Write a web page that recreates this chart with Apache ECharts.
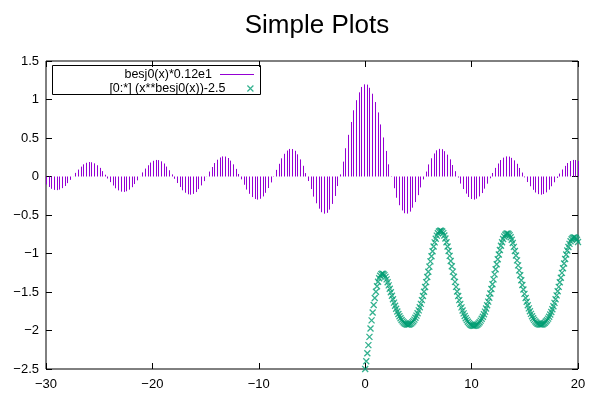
<!DOCTYPE html>
<html><head><meta charset="utf-8">
<script src="https://cdn.jsdelivr.net/npm/echarts@6/dist/echarts.min.js"></script>
<style>html,body{margin:0;padding:0;background:#fff}#c{width:600px;height:400px}</style>
</head><body><div id="c"></div>
<script>
const chartTitle = 'Simple Plots';
const seriesNames = ['besj0(x)*0.12e1', '[0:*] (x**besj0(x))-2.5'];
const xAxisRange = [-30, 20, 10];
const yAxisRange = [-2.5, 1.5, 0.5];

// impulses: besj0(x)*1.2 sampled on [-30:20]
const impulseX = [
-30,-29.75,-29.50,-29.25,-29.00,-28.74,-28.49,-28.24,-27.99,-27.74,
-27.49,-27.24,-26.98,-26.73,-26.48,-26.23,-25.98,-25.73,-25.48,-25.23,
-24.97,-24.72,-24.47,-24.22,-23.97,-23.72,-23.47,-23.22,-22.96,-22.71,
-22.46,-22.21,-21.96,-21.71,-21.46,-21.21,-20.95,-20.70,-20.45,-20.20,
-19.95,-19.70,-19.45,-19.20,-18.94,-18.69,-18.44,-18.19,-17.94,-17.69,
-17.44,-17.19,-16.93,-16.68,-16.43,-16.18,-15.93,-15.68,-15.43,-15.18,
-14.92,-14.67,-14.42,-14.17,-13.92,-13.67,-13.42,-13.17,-12.91,-12.66,
-12.41,-12.16,-11.91,-11.66,-11.41,-11.16,-10.90,-10.65,-10.40,-10.15,
-9.90,-9.65,-9.40,-9.15,-8.89,-8.64,-8.39,-8.14,-7.89,-7.64,
-7.39,-7.14,-6.88,-6.63,-6.38,-6.13,-5.88,-5.63,-5.38,-5.13,
-4.87,-4.62,-4.37,-4.12,-3.87,-3.62,-3.37,-3.12,-2.86,-2.61,
-2.36,-2.11,-1.86,-1.61,-1.36,-1.11,-0.85,-0.60,-0.35,-0.10,
0.15,0.40,0.65,0.90,1.16,1.41,1.66,1.91,2.16,2.41,
2.66,2.91,3.17,3.42,3.67,3.92,4.17,4.42,4.67,4.92,
5.18,5.43,5.68,5.93,6.18,6.43,6.68,6.93,7.19,7.44,
7.69,7.94,8.19,8.44,8.69,8.94,9.20,9.45,9.70,9.95,
10.20,10.45,10.70,10.95,11.21,11.46,11.71,11.96,12.21,12.46,
12.71,12.96,13.22,13.47,13.72,13.97,14.22,14.47,14.72,14.97,
15.23,15.48,15.73,15.98,16.23,16.48,16.73,16.98,17.24,17.49,
17.74,17.99,18.24,18.49,18.74,19.00,19.25,19.50,19.75,20.00];
const impulseY = [
-0.104,-0.136,-0.160,-0.174,-0.177,-0.170,-0.151,-0.123,-0.086,-0.044,
0.001,0.047,0.090,0.128,0.158,0.178,0.188,0.185,0.171,0.146,
0.112,0.070,0.023,-0.026,-0.073,-0.117,-0.153,-0.180,-0.197,-0.200,
-0.192,-0.171,-0.139,-0.098,-0.050,0.001,0.053,0.103,0.146,0.181,
0.204,0.215,0.213,0.197,0.169,0.129,0.081,0.027,-0.030,-0.085,
-0.136,-0.179,-0.211,-0.231,-0.236,-0.226,-0.202,-0.164,-0.116,-0.060,
0.002,0.064,0.123,0.175,0.218,0.247,0.261,0.259,0.240,0.206,
0.158,0.099,0.033,-0.037,-0.107,-0.170,-0.225,-0.267,-0.292,-0.300,
-0.289,-0.259,-0.212,-0.150,-0.077,0.004,0.086,0.165,0.236,0.295,
0.337,0.358,0.357,0.334,0.288,0.222,0.139,0.044,-0.059,-0.163,
-0.261,-0.348,-0.418,-0.464,-0.483,-0.472,-0.430,-0.356,-0.253,-0.124,
0.027,0.193,0.367,0.541,0.708,0.860,0.991,1.093,1.163,1.197,
1.193,1.152,1.075,0.967,0.832,0.676,0.507,0.332,0.158,-0.005,
-0.152,-0.276,-0.373,-0.441,-0.477,-0.482,-0.456,-0.405,-0.332,-0.242,
-0.142,-0.038,0.064,0.157,0.237,0.299,0.340,0.359,0.355,0.329,
0.284,0.223,0.149,0.069,-0.013,-0.092,-0.163,-0.222,-0.266,-0.292,
-0.300,-0.288,-0.259,-0.215,-0.158,-0.093,-0.023,0.046,0.112,0.169,
0.214,0.245,0.261,0.259,0.242,0.210,0.165,0.111,0.051,-0.011,
-0.072,-0.127,-0.173,-0.208,-0.229,-0.236,-0.228,-0.206,-0.171,-0.127,
-0.075,-0.019,0.038,0.091,0.138,0.175,0.201,0.215,0.214,0.201];

// points: x**besj0(x) - 2.5 sampled on [0:20]
const pointX = [
0.00,0.10,0.20,0.30,0.40,0.50,0.60,0.70,0.80,0.90,
1.01,1.11,1.21,1.31,1.41,1.51,1.61,1.71,1.81,1.91,
2.01,2.11,2.21,2.31,2.41,2.51,2.61,2.71,2.81,2.91,
3.02,3.12,3.22,3.32,3.42,3.52,3.62,3.72,3.82,3.92,
4.02,4.12,4.22,4.32,4.42,4.52,4.62,4.72,4.82,4.92,
5.03,5.13,5.23,5.33,5.43,5.53,5.63,5.73,5.83,5.93,
6.03,6.13,6.23,6.33,6.43,6.53,6.63,6.73,6.83,6.93,
7.04,7.14,7.24,7.34,7.44,7.54,7.64,7.74,7.84,7.94,
8.04,8.14,8.24,8.34,8.44,8.54,8.64,8.74,8.84,8.94,
9.05,9.15,9.25,9.35,9.45,9.55,9.65,9.75,9.85,9.95,
10.05,10.15,10.25,10.35,10.45,10.55,10.65,10.75,10.85,10.95,
11.06,11.16,11.26,11.36,11.46,11.56,11.66,11.76,11.86,11.96,
12.06,12.16,12.26,12.36,12.46,12.56,12.66,12.76,12.86,12.96,
13.07,13.17,13.27,13.37,13.47,13.57,13.67,13.77,13.87,13.97,
14.07,14.17,14.27,14.37,14.47,14.57,14.67,14.77,14.87,14.97,
15.08,15.18,15.28,15.38,15.48,15.58,15.68,15.78,15.88,15.98,
16.08,16.18,16.28,16.38,16.48,16.58,16.68,16.78,16.88,16.98,
17.09,17.19,17.29,17.39,17.49,17.59,17.69,17.79,17.89,17.99,
18.09,18.19,18.29,18.39,18.49,18.59,18.69,18.79,18.89,18.99,
19.10,19.20,19.30,19.40,19.50,19.60,19.70,19.80,19.90,20.00];
const pointY = [
-2.500,-2.399,-2.296,-2.190,-2.083,-1.975,-1.869,-1.766,-1.668,-1.578,
-1.496,-1.425,-1.367,-1.321,-1.288,-1.268,-1.261,-1.266,-1.281,-1.304,
-1.336,-1.373,-1.414,-1.458,-1.503,-1.549,-1.594,-1.638,-1.679,-1.718,
-1.754,-1.786,-1.815,-1.841,-1.863,-1.882,-1.897,-1.909,-1.917,-1.922,
-1.923,-1.921,-1.916,-1.907,-1.895,-1.879,-1.859,-1.835,-1.807,-1.775,
-1.739,-1.699,-1.654,-1.605,-1.552,-1.496,-1.435,-1.372,-1.306,-1.238,
-1.170,-1.102,-1.035,-0.970,-0.910,-0.856,-0.808,-0.768,-0.737,-0.715,
-0.704,-0.704,-0.714,-0.735,-0.766,-0.806,-0.853,-0.908,-0.967,-1.031,
-1.098,-1.166,-1.235,-1.303,-1.369,-1.433,-1.494,-1.551,-1.605,-1.654,
-1.700,-1.741,-1.778,-1.811,-1.840,-1.865,-1.886,-1.904,-1.918,-1.928,
-1.935,-1.939,-1.940,-1.937,-1.931,-1.921,-1.908,-1.892,-1.872,-1.848,
-1.821,-1.790,-1.755,-1.715,-1.672,-1.625,-1.574,-1.519,-1.460,-1.400,
-1.336,-1.271,-1.205,-1.139,-1.075,-1.013,-0.954,-0.900,-0.853,-0.812,
-0.780,-0.757,-0.743,-0.739,-0.746,-0.762,-0.788,-0.822,-0.864,-0.914,
-0.968,-1.027,-1.089,-1.154,-1.219,-1.283,-1.347,-1.409,-1.468,-1.524,
-1.577,-1.626,-1.672,-1.713,-1.751,-1.784,-1.814,-1.840,-1.862,-1.881,
-1.896,-1.908,-1.916,-1.921,-1.923,-1.922,-1.918,-1.910,-1.899,-1.884,
-1.867,-1.846,-1.821,-1.793,-1.760,-1.724,-1.685,-1.641,-1.594,-1.544,
-1.490,-1.433,-1.374,-1.314,-1.252,-1.191,-1.130,-1.071,-1.014,-0.962,
-0.916,-0.875,-0.842,-0.816,-0.799,-0.791,-0.793,-0.803,-0.822,-0.851];

const impulseColor = '#9400d3';
const pointColor = '#009e73';
const crossPath = 'path://M0,0L10,10M10,0L0,10';
const FONT = 'Liberation Sans, Arial, sans-serif';

const impulseData = impulseX.map((x, i) => [x, impulseY[i]]);
const pointData = pointX.map((x, i) => [x, pointY[i]]);
const minusFmt = v => String(v).replace('-', '\u2212');

function axisBase(range, extra) {
  return Object.assign({
    type: 'value', min: range[0], max: range[1], interval: range[2],
    axisLine: { show: false, onZero: false },
    axisTick: { show: true, inside: true, length: 6, lineStyle: { color: '#000', width: 1 } },
    splitLine: { show: false }
  }, extra);
}

const chart = echarts.init(document.getElementById('c'), null, { renderer: 'canvas' });
chart.setOption({
  animation: false,
  backgroundColor: '#fff',
  title: {
    text: chartTitle, left: 312, top: 8, textAlign: 'center',
    textStyle: { fontSize: 26, fontWeight: 'normal', fontFamily: FONT, color: '#000' }
  },
  grid: { left: 46, right: 22, top: 61, bottom: 31, show: true, borderColor: '#000', borderWidth: 1, backgroundColor: 'transparent' },
  legend: [
    {
      data: [{ name: seriesNames[0], icon: 'rect', itemStyle: { color: impulseColor, borderColor: impulseColor, borderWidth: 0, opacity: 1 } }],
      right: 346, top: 68, align: 'right', padding: 0, itemWidth: 34, itemHeight: 1,
      selectedMode: false,
      itemStyle: { color: impulseColor, borderWidth: 0 },
      textStyle: { fontSize: 12.5, fontFamily: FONT, color: '#000', padding: [0, 3, 0, 0] }
    },
    {
      data: [{ name: seriesNames[1], icon: crossPath, itemStyle: { color: 'rgba(0,0,0,0)', borderColor: pointColor, borderWidth: 1.2 } }],
      right: 346, top: 82, align: 'right', padding: 0, itemWidth: 34, itemHeight: 6,
      selectedMode: false,
      textStyle: { fontSize: 12.5, fontFamily: FONT, color: '#000', padding: [0, 3, 0, 0] }
    }
  ],
  graphic: [{
    type: 'rect', shape: { x: 52.5, y: 65.5, width: 208, height: 29 },
    style: { fill: 'transparent', stroke: '#000', lineWidth: 1 }, silent: true, z: 10
  }],
  xAxis: [
    axisBase(xAxisRange, { position: 'bottom', axisLabel: { color: '#000', fontSize: 13, fontFamily: FONT, margin: 9, formatter: minusFmt } }),
    axisBase(xAxisRange, { position: 'top', axisLabel: { show: false } })
  ],
  yAxis: [
    axisBase(yAxisRange, { position: 'left', axisLabel: { color: '#000', fontSize: 13, fontFamily: FONT, margin: 7, formatter: minusFmt } }),
    axisBase(yAxisRange, { position: 'right', axisLabel: { show: false } })
  ],
  series: [
    {
      name: seriesNames[0], type: 'custom', xAxisIndex: 0, yAxisIndex: 0,
      data: impulseData, encode: { x: 0, y: 1 },
      itemStyle: { color: impulseColor },
      renderItem: function (params, api) {
        const x = api.value(0), y = api.value(1);
        const p0 = api.coord([x, 0]);
        const p1 = api.coord([x, y]);
        const px = Math.round(p0[0]) + 0.5;
        return { type: 'line', shape: { x1: px, y1: p0[1], x2: px, y2: p1[1] }, style: { stroke: impulseColor, lineWidth: 1 } };
      }
    },
    {
      name: seriesNames[1], type: 'scatter', xAxisIndex: 0, yAxisIndex: 0,
      data: pointData, symbol: crossPath, symbolSize: 6, clip: false,
      itemStyle: { color: 'rgba(0,0,0,0)', borderColor: pointColor, borderWidth: 1.3 },
      emphasis: { disabled: true }
    }
  ]
});
</script>
</body></html>
